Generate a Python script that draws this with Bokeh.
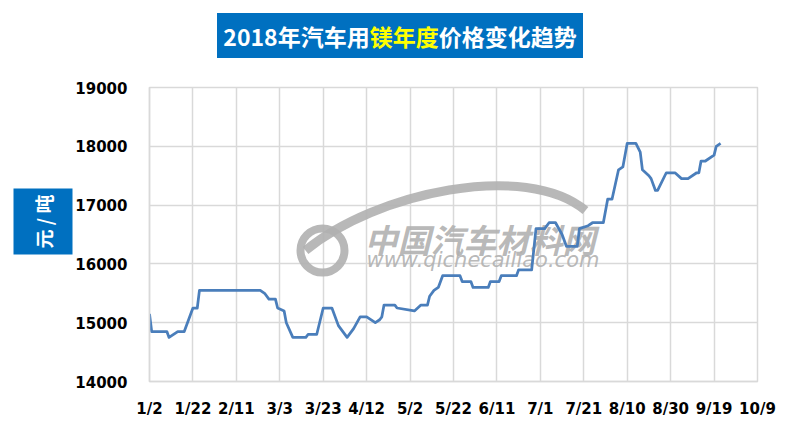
import pandas as pd
from bokeh.plotting import figure
from bokeh.models import Range1d, FixedTicker, Title, Div
from bokeh.layouts import column
from bokeh.embed import file_html
from bokeh.resources import INLINE
from bokeh.core.properties import value

# ---------------- data ----------------
dates = [
    "2018-01-02", "2018-01-03", "2018-01-10", "2018-01-11", "2018-01-15", "2018-01-18",
    "2018-01-22", "2018-01-24", "2018-01-25", "2018-02-22", "2018-02-24", "2018-02-26",
    "2018-03-01", "2018-03-02", "2018-03-05", "2018-03-06", "2018-03-09", "2018-03-15",
    "2018-03-16", "2018-03-20", "2018-03-23", "2018-03-27", "2018-03-30", "2018-04-03",
    "2018-04-06", "2018-04-09", "2018-04-12", "2018-04-16", "2018-04-18", "2018-04-19",
    "2018-04-20", "2018-04-25", "2018-04-26", "2018-05-04", "2018-05-07", "2018-05-10",
    "2018-05-11", "2018-05-13", "2018-05-15", "2018-05-17", "2018-05-25", "2018-05-26",
    "2018-05-30", "2018-05-31", "2018-06-07", "2018-06-08", "2018-06-12", "2018-06-13",
    "2018-06-20", "2018-06-21", "2018-06-27", "2018-06-29", "2018-07-03", "2018-07-05",
    "2018-07-08", "2018-07-11", "2018-07-13", "2018-07-18", "2018-07-19", "2018-07-23",
    "2018-07-25", "2018-07-30", "2018-08-01", "2018-08-03", "2018-08-06", "2018-08-08",
    "2018-08-10", "2018-08-14", "2018-08-16", "2018-08-17", "2018-08-20", "2018-08-21",
    "2018-08-23", "2018-08-24", "2018-08-28", "2018-09-01", "2018-09-04", "2018-09-07",
    "2018-09-11", "2018-09-12", "2018-09-13", "2018-09-15", "2018-09-19", "2018-09-20",
    "2018-09-22",
]
prices = [
    15150, 14850, 14850, 14750, 14850, 14850,
    15250, 15250, 15550, 15550, 15500, 15400,
    15400, 15250, 15200, 15000, 14750, 14750,
    14800, 14800, 15250, 15250, 14950, 14750,
    14900, 15100, 15100, 15000, 15050, 15100,
    15300, 15300, 15250, 15200, 15300, 15300,
    15450, 15550, 15600, 15800, 15800, 15700,
    15700, 15600, 15600, 15700, 15700, 15800,
    15800, 15900, 15900, 16600, 16600, 16700,
    16700, 16500, 16300, 16300, 16600, 16650,
    16700, 16700, 17100, 17100, 17600, 17650,
    18050, 18050, 17900, 17600, 17500, 17450,
    17250, 17250, 17550, 17550, 17450, 17450,
    17550, 17550, 17750, 17750, 17850, 18000,
    18050,
]
tick_dates = ["2018-01-02", "2018-01-22", "2018-02-11", "2018-03-03", "2018-03-23",
              "2018-04-12", "2018-05-02", "2018-05-22", "2018-06-11", "2018-07-01",
              "2018-07-21", "2018-08-10", "2018-08-30", "2018-09-19", "2018-10-09"]
tick_labels = ["1/2", "1/22", "2/11", "3/3", "3/23", "4/12", "5/2", "5/22", "6/11",
               "7/1", "7/21", "8/10", "8/30", "9/19", "10/9"]
y_ticks = [14000, 15000, 16000, 17000, 18000, 19000]
title_parts = ["2018年汽车用", "镁年度", "价格变化趋势"]
y_label = "元 / 吨"
wm_name = "中国汽车材料网"
wm_url = "www.qichecailiao.com"

# ---------------- derived ----------------
start = pd.Timestamp(tick_dates[0])
xs = list((pd.to_datetime(dates) - start).days)
tick_x = list((pd.to_datetime(tick_dates) - start).days)

W, H = 800, 435
TOP_H = 70                      # height of the title strip above the figure
FL, FR, FT, FB = 149, 757, 87, 381   # frame edges in page pixels
X0, X1 = tick_x[0], tick_x[-1]
Y0, Y1 = y_ticks[0], y_ticks[-1]


def dx(px):
    return X0 + (px - FL) * (X1 - X0) / (FR - FL)


def dy(py):
    return Y1 - (py - FT) * (Y1 - Y0) / (FB - FT)


BLUE = "#0070C0"
LINE = "#4A7EBB"
GRID = "#D9D9D9"
CJK = "Noto Sans CJK SC"

p = figure(width=W, height=H - TOP_H, output_backend="svg", toolbar_location=None,
           x_range=Range1d(X0, X1), y_range=Range1d(Y0, Y1),
           min_border_left=FL, min_border_right=W - FR,
           min_border_top=FT - TOP_H, min_border_bottom=H - FB)
p.outline_line_color = GRID
p.outline_line_width = 1.5
p.background_fill_color = "white"
p.border_fill_color = "white"

p.xaxis.ticker = FixedTicker(ticks=tick_x)
p.xaxis.major_label_overrides = {t: l for t, l in zip(tick_x, tick_labels)}
p.yaxis.ticker = FixedTicker(ticks=y_ticks)
for ax in (p.xaxis, p.yaxis):
    ax.axis_line_color = GRID
    ax.axis_line_width = 1.5
    ax.major_tick_line_color = None
    ax.minor_tick_line_color = None
    ax.major_tick_out = 0
    ax.major_tick_in = 0
    ax.major_label_text_font = "DejaVu Sans"
    ax.major_label_text_font_style = "bold"
    ax.major_label_text_font_size = "15px"
    ax.major_label_text_color = "#000000"
p.xaxis.major_label_standoff = 18
p.yaxis.major_label_standoff = 22
p.xgrid.grid_line_color = GRID
p.ygrid.grid_line_color = GRID
p.xgrid.grid_line_width = 1.5
p.ygrid.grid_line_width = 1.5

# ---------------- watermark ----------------
WM = "#B0B0B0"
p.bezier(x0=[dx(305)], y0=[dy(250)], x1=[dx(585)], y1=[dy(210)],
         cx0=[dx(375)], cy0=[dy(192)], cx1=[dx(525)], cy1=[dy(160)],
         line_color=WM, line_width=9, line_alpha=0.9)
p.circle(x=[dx(322)], y=[dy(250)], radius=22, radius_units="screen",
         fill_color=None, line_color=WM, line_width=8, line_alpha=0.9)
p.text(x=[dx(364)], y=[dy(238)], text=[wm_name], text_font=value(CJK),
       text_font_style="bold italic", text_font_size="33px", text_color=WM,
       text_alpha=0.9, text_align="left", text_baseline="middle")
p.text(x=[dx(366)], y=[dy(259)], text=[wm_url], text_font=value("DejaVu Sans"),
       text_font_style="italic", text_font_size="21px", text_color=WM,
       text_alpha=0.9, text_align="left", text_baseline="middle")

# ---------------- series ----------------
p.line(xs, prices, line_color=LINE, line_width=2.75, line_join="round")

# ---------------- y label box (left title) ----------------
yt = Title(text=y_label, align="left", offset=127, standoff=0, text_color="white",
           text_font=CJK, text_font_style="bold", text_font_size="19px",
           background_fill_color=BLUE,
           padding=dict(left=6, right=6, top=16, bottom=16))
p.add_layout(yt, "left")

# ---------------- title strip ----------------
title_html = (
    f'<div style="position:relative;width:{W}px;height:{TOP_H}px;">'
    f'<div style="position:absolute;left:217px;top:13px;width:366px;height:45px;'
    f'background:{BLUE};color:#FFFFFF;font-family:\'{CJK}\';font-weight:bold;'
    f'font-size:23px;line-height:46px;text-align:center;white-space:nowrap;">'
    f'{title_parts[0]}<span style="color:#FFFF00;">{title_parts[1]}</span>'
    f'{title_parts[2]}</div></div>'
)
title_div = Div(text=title_html, width=W, height=TOP_H, margin=0)

layout = column(title_div, p, spacing=0)

open("out.html", "w").write(file_html(layout, INLINE))
